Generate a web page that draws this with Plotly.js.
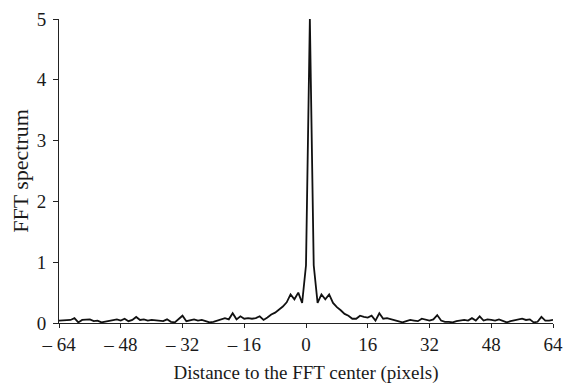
<!DOCTYPE html>
<html>
<head>
<meta charset="utf-8">
<script src="https://cdn.plot.ly/plotly-3.0.1.min.js"></script>
<style>html,body{margin:0;padding:0;background:#fff;}#chart{width:568px;height:389px;}</style>
</head>
<body>
<div id="chart"></div>
<script>
// Distance to FFT center (pixels), -64 .. 64
const distance = [];
for (let d = -64; d <= 64; d++) distance.push(d);

// FFT spectrum values, one per distance
const spectrum = [
  0.04, 0.04, 0.04, 0.05, 0.08, 0.01, 0.05, 0.06, 0.06, 0.03,   // -64..-55
  0.04, 0.01, 0.02, 0.04, 0.05, 0.06, 0.04, 0.07, 0.03, 0.05,   // -54..-45
  0.10, 0.05, 0.06, 0.04, 0.05, 0.04, 0.04, 0.03, 0.06, 0.02,   // -44..-35
  0.01, 0.07, 0.12, 0.03, 0.05, 0.06, 0.04, 0.05, 0.03, 0.01,   // -34..-25
  0.02, 0.04, 0.07, 0.08, 0.06, 0.16, 0.06, 0.11, 0.07, 0.08,   // -24..-15
  0.07, 0.08, 0.11, 0.05, 0.09, 0.14, 0.17, 0.22, 0.27, 0.34,   // -14..-5
  0.47, 0.39, 0.50, 0.33, 0.95, 5.00, 0.95, 0.33, 0.47, 0.39,   // -4..5
  0.47, 0.33, 0.26, 0.21, 0.15, 0.12, 0.07, 0.07, 0.12, 0.10,   // 6..15
  0.09, 0.12, 0.04, 0.16, 0.07, 0.08, 0.06, 0.05, 0.02, 0.01,   // 16..25
  0.03, 0.05, 0.04, 0.03, 0.07, 0.05, 0.04, 0.06, 0.13, 0.04,   // 26..35
  0.02, 0.02, 0.01, 0.03, 0.04, 0.05, 0.04, 0.08, 0.04, 0.11,   // 36..45
  0.04, 0.06, 0.05, 0.04, 0.06, 0.03, 0.01, 0.03, 0.04, 0.06,   // 46..55
  0.07, 0.05, 0.06, 0.01, 0.02, 0.10, 0.04, 0.04, 0.05          // 56..64
];

const xTickVals = [-64, -48, -32, -16, 0, 16, 32, 48, 64];
const xTickText = ['\u2013 64', '\u2013 48', '\u2013 32', '\u2013 16', '0', '16', '32', '48', '64'];
const yTickVals = [0, 1, 2, 3, 4, 5];

const fam = 'Liberation Serif, Times New Roman, serif';
const tickFont = {family: fam, size: 19, color: '#1a1a1a'};
const xTitleFont = {family: fam, size: 19, color: '#1a1a1a'};
const yTitleFont = {family: fam, size: 22, color: '#1a1a1a'};

Plotly.newPlot('chart', [{
  x: distance,
  y: spectrum,
  type: 'scatter',
  mode: 'lines',
  line: {color: '#111', width: 1.8},
  hoverinfo: 'skip'
}], {
  width: 568,
  height: 389,
  margin: {l: 59, r: 15, t: 19, b: 66},
  paper_bgcolor: '#fff',
  plot_bgcolor: '#fff',
  showlegend: false,
  font: tickFont,
  xaxis: {
    range: [-64, 64],
    tickvals: xTickVals,
    ticktext: xTickText,
    ticks: 'outside',
    ticklen: 4,
    tickcolor: '#222',
    showline: true,
    linecolor: '#222',
    linewidth: 1,
    showgrid: false,
    zeroline: false,
    tickfont: tickFont,
    title: {text: 'Distance to the FFT center (pixels)', font: xTitleFont, standoff: 11}
  },
  yaxis: {
    range: [0, 5],
    tickvals: yTickVals,
    ticks: 'outside',
    ticklen: 5,
    tickcolor: '#222',
    showline: true,
    linecolor: '#222',
    linewidth: 1,
    showgrid: false,
    zeroline: false,
    tickfont: tickFont,
    ticklabelstandoff: 3,
    title: {text: 'FFT spectrum', font: yTitleFont, standoff: 2}
  }
}, {displayModeBar: false, staticPlot: true});
</script>
</body>
</html>
